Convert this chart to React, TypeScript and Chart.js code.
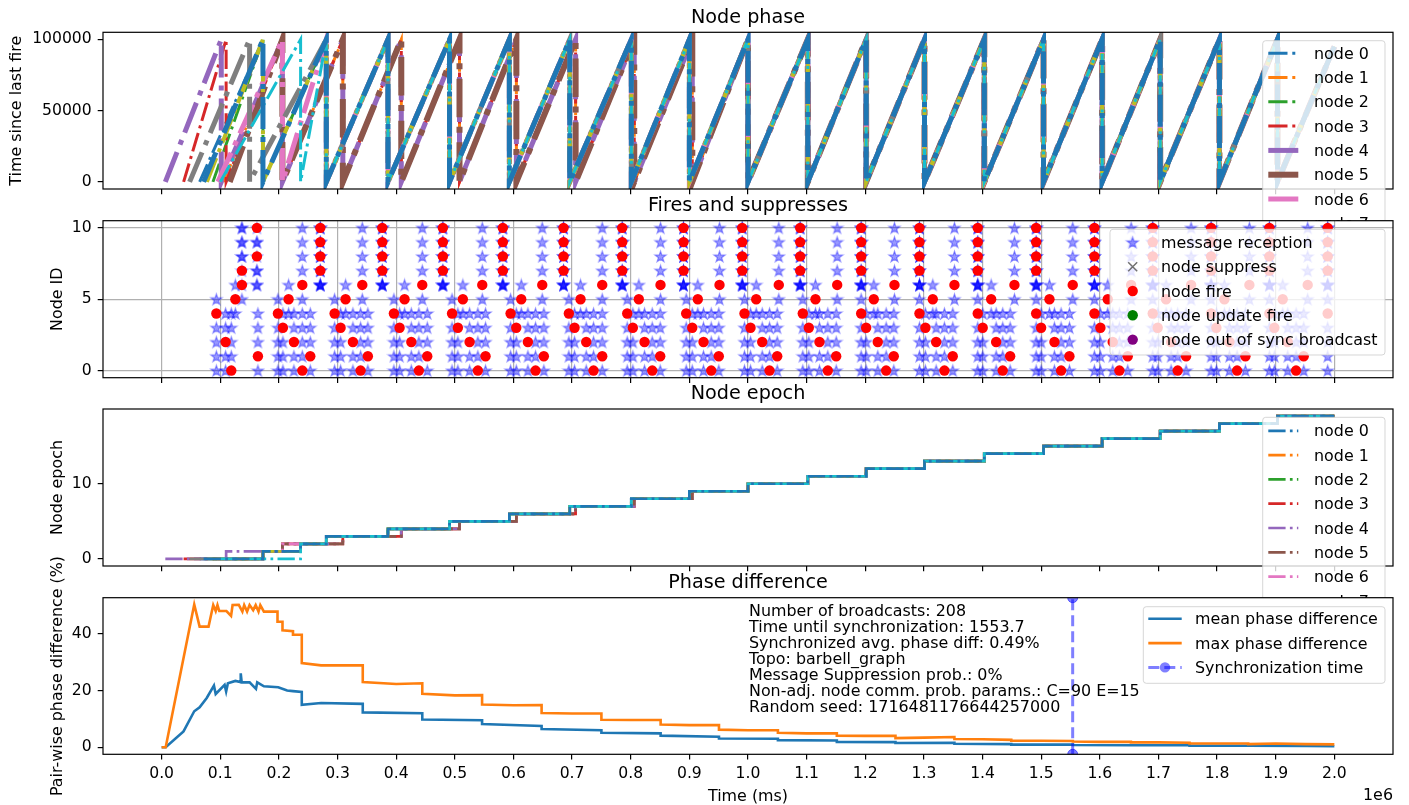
import React, { useEffect, useRef } from 'react';
import { Chart, registerables } from 'chart.js';

Chart.register(...registerables);

const FONT = '"DejaVu Sans", sans-serif';
const TAB10 = ['#1f77b4', '#ff7f0e', '#2ca02c', '#d62728', '#9467bd', '#8c564b', '#e377c2', '#7f7f7f', '#bcbd22', '#17becf'];

/* ---------------- data ---------------- */
const xTickValues = [0, 100000, 200000, 300000, 400000, 500000, 600000, 700000, 800000, 900000, 1000000,
  1100000, 1200000, 1300000, 1400000, 1500000, 1600000, 1700000, 1800000, 1900000, 2000000];
const timeRange = [-100000, 2100000];
const endTime = 2000000;

const nodeLabels = ['node 0', 'node 1', 'node 2', 'node 3', 'node 4', 'node 5', 'node 6', 'node 7', 'node 8', 'node 9', 'node 10'];
const nodeStartTimes = [64800, 105700, 87500, 37500, 6300, 116000, 96000, 47700, 77200, 100000, 71600];

// Node phase panel
const phaseTicks = [0, 50000, 100000];
const phaseRange = [-5000, 105000];
const phasePeak = 100000;
const phaseAtEnd = 95000;
const phaseEarlyDrops = [
  [172800, 280800, 386000, 491000, 593000, 696000, 801000, 900000],
  [206000, 309000, 408700, 508000, 605000, 706000, 806000, 905000],
  [172800, 280800, 386000, 491000, 593000, 696000, 801000, 900000],
  [110000, 206000, 309000, 408700, 508000, 605000, 706000, 806000, 905000],
  [101700, 206000, 309000, 408700, 508000, 605000, 706000, 806000, 905000],
  [206000, 309000, 408700, 508000, 605000, 706000, 806000, 905000],
  [206000, 280800, 386000, 491000, 593000, 696000, 801000, 900000],
  [150000, 280800, 386000, 491000, 593000, 696000, 801000, 900000],
  [172800, 280800, 386000, 491000, 593000, 696000, 801000, 900000],
  [237000, 280800, 386000, 491000, 593000, 696000, 801000, 900000],
  [172800, 280800, 386000, 491000, 593000, 696000, 801000, 900000],
];
const phaseSyncDrops = [1000000, 1102000, 1201500, 1301000, 1403000, 1504000, 1604000, 1703000, 1804000, 1903000];

// Fires and suppresses panel
const nodeIdTicks = [0, 5, 10];
const nodeIdRange = [-0.5, 10.5];
const barbellNeighbors = [
  [1, 2, 3, 4], [0, 2, 3, 4], [0, 1, 3, 4], [0, 1, 2, 4], [0, 1, 2, 3, 5],
  [4, 6],
  [5, 7, 8, 9, 10], [6, 8, 9, 10], [6, 7, 9, 10], [6, 7, 8, 10], [6, 7, 8, 9],
];
const fireTimesByNode = [
  [118800, 239900, 339300, 438700, 539300, 637700, 736600, 836700, 937300, 1036700, 1136100, 1235600, 1335000, 1434400, 1534000, 1633400, 1732800, 1834100, 1934700],
  [164200, 253500, 351700, 453000, 552400, 651800, 751400, 850300, 950200, 1049800, 1150400, 1248600, 1349200, 1447100, 1548200, 1647600, 1747100, 1848300, 1947700],
  [109100, 225600, 326200, 425800, 525200, 624600, 724100, 823500, 924100, 1024200, 1121900, 1221300, 1320900, 1423200, 1522600, 1622000, 1721600, 1821000, 1920400],
  [206800, 305200, 405800, 505200, 604800, 704200, 803600, 904900, 1004300, 1103700, 1201500, 1302600, 1400300, 1499900, 1601000, 1698700, 1798800, 1897700],
  [93300, 198300, 295000, 396100, 495300, 595100, 694500, 794000, 894600, 994000, 1093400, 1193000, 1292400, 1391800, 1491400, 1590800, 1690200, 1789800, 1889200, 1988600],
  [125700, 216500, 313700, 414300, 513700, 613300, 714400, 813800, 914400, 1014000, 1115100, 1214500, 1315100, 1414700, 1514100, 1613500, 1713000, 1812500, 1911900],
  [136900, 239900, 342200, 444500, 546800, 649100, 751400, 850800, 951400, 1052500, 1152100, 1249800, 1352100, 1454400, 1553800, 1653400, 1755700, 1855100, 1954500],
  [136900, 270600, 376300, 479600, 581900, 685400, 785500, 890000, 990100, 1089000, 1193000, 1292400, 1391800, 1491400, 1590800, 1690200, 1789800, 1889200, 1988600],
  [162500, 270600, 376300, 479600, 581900, 685400, 785500, 890000, 990100, 1089000, 1193000, 1292400, 1391800, 1491400, 1590800, 1690200, 1789800, 1889200, 1988600],
  [270600, 376300, 479600, 581900, 685400, 785500, 890000, 990100, 1089000, 1193000, 1292400, 1391800, 1491400, 1590800, 1690200, 1789800, 1889200, 1988600],
  [162500, 270600, 376300, 479600, 581900, 685400, 785500, 890000, 990100, 1089000, 1193000, 1292400, 1391800, 1491400, 1590800, 1690200, 1789800, 1889200, 1988600],
];

// Node epoch panel
const epochTicks = [0, 10];
const epochRange = [-0.95, 19.95];
const epochEarlySteps = [
  [172800, 237000, 280800, 385900, 491000, 593000, 696000, 801000, 900000],
  [172800, 206000, 309000, 408700, 508000, 605000, 706000, 806000, 905000],
  [172800, 237000, 280800, 385900, 491000, 593000, 696000, 801000, 900000],
  [172800, 206000, 309000, 408700, 508000, 605000, 706000, 806000, 905000],
  [110000, 206000, 309000, 408700, 508000, 605000, 706000, 806000, 905000],
  [172800, 206000, 309000, 408700, 508000, 605000, 706000, 806000, 905000],
  [172800, 206000, 280800, 385900, 491000, 593000, 696000, 801000, 900000],
  [172800, 237000, 280800, 385900, 491000, 593000, 696000, 801000, 900000],
  [172800, 237000, 280800, 385900, 491000, 593000, 696000, 801000, 900000],
  [237000, 237000, 280800, 385900, 491000, 593000, 696000, 801000, 900000],
  [172800, 237000, 280800, 385900, 491000, 593000, 696000, 801000, 900000],
];
const epochSyncSteps = [1000000, 1102000, 1201500, 1301000, 1403000, 1504000, 1604000, 1703000, 1804000, 1903000];

// Phase difference panel
const diffTicks = [0, 20, 40];
const diffRange = [-2.5, 52.8];
const meanPhaseDiff = [
  [0, 0], [6900, 0], [37300, 5.6], [55600, 12.7], [64800, 14.1], [76900, 17.4], [89200, 21.8], [92200, 18.8],
  [107400, 22.0], [110000, 19.7], [113000, 22.6], [125700, 23.4], [134900, 23.0], [134900, 26.1], [136500, 22.9],
  [150000, 22.9], [160900, 20.6], [163000, 22.9], [174400, 21.5], [198800, 21.2], [214000, 20.0], [224000, 19.8],
  [239000, 19.5], [239000, 15.0], [272000, 15.6], [343000, 15.3], [343000, 12.3], [444500, 12.0], [444500, 9.8],
  [546500, 9.5], [546500, 8.2], [648000, 7.5], [648000, 6.4], [750000, 6.0], [750000, 5.1], [851000, 4.9],
  [851000, 4.1], [950500, 3.7], [950500, 3.1], [1051000, 3.0], [1051000, 2.5], [1151500, 2.4], [1151500, 1.9],
  [1251500, 1.8], [1251500, 1.5], [1352000, 1.6], [1352000, 1.2], [1449000, 1.1], [1449000, 0.9], [1554000, 0.9],
  [1554000, 0.8], [1653000, 0.7], [1753000, 0.7], [1753000, 0.55], [1853000, 0.5], [1953000, 0.45], [2000000, 0.35],
];
const maxPhaseDiff = [
  [0, 0], [6900, 0], [55600, 50.4], [64800, 42.6], [80000, 42.6], [88000, 50.2], [92200, 48.1], [95200, 50.2],
  [98300, 48.1], [110500, 48.1], [118400, 46.4], [121000, 50.2], [131600, 50.3], [137700, 47.9], [140800, 50.2],
  [145700, 47.9], [150000, 50.2], [156100, 48.4], [160400, 50.2], [165200, 47.9], [168300, 50.2], [174400, 47.9],
  [197600, 47.9], [197600, 44.3], [206100, 44.3], [206100, 41.3], [224000, 41.0], [224000, 39.7], [239000, 39.7],
  [239000, 29.7], [272000, 28.9], [343000, 28.9], [343000, 23.0], [400000, 22.3], [444500, 22.6], [444500, 18.9],
  [500000, 18.3], [546500, 18.4], [546500, 15.1], [600000, 14.8], [648000, 14.9], [648000, 12.1], [700000, 11.9],
  [750000, 11.9], [750000, 9.7], [800000, 9.6], [851000, 9.6], [851000, 8.0], [900000, 7.8], [950500, 7.8],
  [950500, 6.2], [1000000, 6.0], [1051000, 6.0], [1051000, 5.1], [1100000, 4.9], [1151500, 4.9], [1151500, 4.1],
  [1200000, 4.0], [1251500, 4.0], [1251500, 3.2], [1300000, 3.4], [1352000, 3.6], [1352000, 2.9], [1400000, 2.8],
  [1449000, 2.6], [1449000, 2.3], [1500000, 2.3], [1554000, 2.2], [1554000, 2.0], [1600000, 1.9], [1653000, 1.9],
  [1653000, 1.7], [1700000, 1.7], [1753000, 1.6], [1753000, 1.3], [1800000, 1.3], [1853000, 1.3], [1853000, 1.1],
  [1900000, 1.3], [1950000, 1.1], [2000000, 1.0],
];
const syncTime = 1553700;
const statsLines = [
  'Number of broadcasts: 208',
  'Time until synchronization: 1553.7',
  'Synchronized avg. phase diff: 0.49%',
  'Topo: barbell_graph',
  'Message Suppression prob.: 0%',
  'Non-adj. node comm. prob. params.: C=90 E=15',
  'Random seed: 1716481176644257000',
];

/* ---------------- styling / layout ---------------- */
const W = 1409, H = 805;
const PLOT_LEFT = 103, PLOT_RIGHT = 1393;
const PANELS = [
  { top: 32.3, bottom: 189.0 },
  { top: 220.7, bottom: 377.7 },
  { top: 409.0, bottom: 566.0 },
  { top: 597.7, bottom: 754.3 },
];
const TICK_FONT = 15.6, LABEL_FONT = 15.9, TITLE_FONT = 19.2, LEGEND_FONT = 15.9;
const TICK_LEN = 5.3;
const X_LABEL_AXIS_H = 30;
const phaseLineWidths = [3, 3, 3, 3, 5, 6, 5, 5, 4, 3, 5];
const epochLineWidth = 2.7;
const dashFor = (lw: number) => [6.4 * lw, 1.6 * lw, lw, 1.6 * lw];
const colorOf = (i: number) => TAB10[i % 10];
const STAR_FILL = 'rgba(0,0,255,0.4)';
const SYNC_COLOR = 'rgba(0,0,255,0.5)';

function makeStar(r: number) {
  const lw = 1.2;
  const size = Math.ceil(2 * r + lw + 2);
  const c = document.createElement('canvas');
  c.width = size; c.height = size;
  const ctx = c.getContext('2d') as CanvasRenderingContext2D;
  const cx = size / 2, cy = size / 2 + 0.5;
  ctx.beginPath();
  for (let k = 0; k < 10; k++) {
    const rad = k % 2 === 0 ? r : r * 0.382;
    const a = -Math.PI / 2 + (k * Math.PI) / 5;
    const px = cx + rad * Math.cos(a), py = cy + rad * Math.sin(a);
    if (k === 0) ctx.moveTo(px, py); else ctx.lineTo(px, py);
  }
  ctx.closePath();
  ctx.fillStyle = STAR_FILL; ctx.fill();
  ctx.lineWidth = lw; ctx.strokeStyle = STAR_FILL; ctx.stroke();
  return c;
}

/* ---------------- derived tables ---------------- */
function phasePoints(i: number) {
  const drops = [...phaseEarlyDrops[i], ...phaseSyncDrops];
  const pts: any[] = [{ x: nodeStartTimes[i], y: 0 }];
  drops.forEach((d) => { pts.push({ x: d, y: phasePeak }); pts.push({ x: d, y: 0 }); });
  pts.push({ x: endTime, y: phaseAtEnd });
  return pts;
}
function epochPoints(i: number) {
  const steps = [...epochEarlySteps[i], ...epochSyncSteps];
  const pts: any[] = [{ x: nodeStartTimes[i], y: 0 }];
  steps.forEach((s, k) => { pts.push({ x: s, y: k }); pts.push({ x: s, y: k + 1 }); });
  pts.push({ x: endTime, y: steps.length });
  return pts;
}
const receptionPoints: any[] = [];
fireTimesByNode.forEach((times, node) => times.forEach((t) => barbellNeighbors[node].forEach((n) => receptionPoints.push({ x: t, y: n }))));
const firePoints = fireTimesByNode.flatMap((times, node) => times.map((t) => ({ x: t, y: node })));

/* ---------------- axes ---------------- */
function xAxis(withLabels: boolean, gridOnArea: boolean, height: number) {
  return {
    type: 'linear', min: timeRange[0], max: timeRange[1],
    afterBuildTicks: (s: any) => { s.ticks = xTickValues.map((v) => ({ value: v })); },
    afterFit: (s: any) => { s.height = height; },
    grid: { display: true, drawOnChartArea: gridOnArea, drawTicks: true, tickLength: TICK_LEN, tickWidth: 1.2, tickColor: '#000', color: '#b0b0b0', lineWidth: 1.2 },
    border: { display: false },
    ticks: { display: withLabels, autoSkip: false, maxRotation: 0, minRotation: 0, padding: 5, color: '#000', font: { family: FONT, size: TICK_FONT }, callback: (v: number) => (v / 1e6).toFixed(1) },
  };
}
function yAxis(ticks: number[], range: number[], gridOnArea: boolean) {
  return {
    type: 'linear', min: range[0], max: range[1],
    afterBuildTicks: (s: any) => { s.ticks = ticks.map((v) => ({ value: v })); },
    afterFit: (s: any) => { s.width = PLOT_LEFT; },
    grid: { display: true, drawOnChartArea: gridOnArea, drawTicks: true, tickLength: TICK_LEN, tickWidth: 1.2, tickColor: '#000', color: '#b0b0b0', lineWidth: 1.2 },
    border: { display: false },
    ticks: { autoSkip: false, padding: 6, color: '#000', font: { family: FONT, size: TICK_FONT }, callback: (v: number) => String(v) },
  };
}

/* ---------------- legend & decorations ---------------- */
function roundRect(ctx: CanvasRenderingContext2D, x: number, y: number, w: number, h: number, r: number) {
  ctx.beginPath();
  ctx.moveTo(x + r, y);
  ctx.lineTo(x + w - r, y); ctx.arcTo(x + w, y, x + w, y + r, r);
  ctx.lineTo(x + w, y + h - r); ctx.arcTo(x + w, y + h, x + w - r, y + h, r);
  ctx.lineTo(x + r, y + h); ctx.arcTo(x, y + h, x, y + h - r, r);
  ctx.lineTo(x, y + r); ctx.arcTo(x, y, x + r, y, r);
  ctx.closePath();
}

function drawLegend(ctx: CanvasRenderingContext2D, L: any, star: HTMLCanvasElement) {
  ctx.save();
  roundRect(ctx, L.box[0], L.box[1], L.box[2], L.box[3], 3);
  ctx.fillStyle = 'rgba(255,255,255,0.8)'; ctx.fill();
  ctx.lineWidth = 1; ctx.strokeStyle = 'rgba(204,204,204,0.8)'; ctx.stroke();
  L.entries.forEach((e: any, k: number) => {
    const by = L.firstBaseline + k * L.rowStep;
    const cy = by - 5.6;
    const x0 = L.handle[0], x1 = L.handle[1], cx = (x0 + x1) / 2;
    if (e.kind === 'line' || e.kind === 'lineMarker') {
      ctx.save();
      ctx.beginPath(); ctx.setLineDash(e.dash || []); ctx.lineWidth = e.lw; ctx.strokeStyle = e.color; ctx.lineCap = 'butt';
      ctx.moveTo(x0, cy); ctx.lineTo(x1, cy); ctx.stroke();
      ctx.restore();
    }
    if (e.kind === 'lineMarker' || e.kind === 'dot') {
      ctx.beginPath(); ctx.arc(cx, cy, 5.2, 0, Math.PI * 2); ctx.fillStyle = e.color; ctx.fill();
    }
    if (e.kind === 'star') ctx.drawImage(star, cx - star.width / 2, cy - star.height / 2);
    if (e.kind === 'cross') {
      ctx.beginPath(); ctx.strokeStyle = e.color; ctx.lineWidth = 1.5;
      ctx.moveTo(cx - 4.5, cy - 4.5); ctx.lineTo(cx + 4.5, cy + 4.5);
      ctx.moveTo(cx + 4.5, cy - 4.5); ctx.lineTo(cx - 4.5, cy + 4.5); ctx.stroke();
    }
    ctx.fillStyle = '#000'; ctx.font = `${LEGEND_FONT}px ${FONT}`; ctx.textAlign = 'left'; ctx.textBaseline = 'alphabetic';
    ctx.fillText(e.label, L.textX, by);
  });
  ctx.restore();
}

function decorPlugin(title: string, ylabel: string, ylabelX: number, legend: any, star: HTMLCanvasElement, extra?: (ctx: CanvasRenderingContext2D, a: any) => void) {
  return {
    id: 'decor',
    beforeDraw(chart: any) {
      const { ctx, chartArea: a } = chart;
      ctx.save(); ctx.fillStyle = '#ffffff'; ctx.fillRect(a.left, a.top, a.right - a.left, a.bottom - a.top); ctx.restore();
    },
    afterDraw(chart: any) {
      const { ctx, chartArea: a } = chart;
      ctx.save();
      ctx.strokeStyle = '#000'; ctx.lineWidth = 1.2;
      ctx.strokeRect(a.left, a.top, a.right - a.left, a.bottom - a.top);
      ctx.fillStyle = '#000'; ctx.textAlign = 'center'; ctx.textBaseline = 'alphabetic';
      ctx.font = `${TITLE_FONT}px ${FONT}`;
      ctx.fillText(title, (a.left + a.right) / 2, a.top - 9.7);
      ctx.font = `${LABEL_FONT}px ${FONT}`;
      ctx.save();
      ctx.translate(ylabelX, (a.top + a.bottom) / 2); ctx.rotate(-Math.PI / 2);
      ctx.fillText(ylabel, 0, 0);
      ctx.restore();
      if (extra) extra(ctx, a);
      ctx.restore();
      drawLegend(ctx, legend, star);
    },
  };
}

function makeChart(canvas: HTMLCanvasElement, panel: number, datasets: any[], yTicks: number[], yRange: number[], gridOnArea: boolean, withXLabels: boolean, plugin: any) {
  const p = PANELS[panel];
  const xH = withXLabels ? X_LABEL_AXIS_H : TICK_LEN + 1;
  return new Chart(canvas, {
    type: 'scatter',
    data: { datasets },
    options: {
      responsive: false, maintainAspectRatio: false, animation: false, devicePixelRatio: 1, events: [],
      layout: { padding: { left: 0, right: W - PLOT_RIGHT, top: p.top, bottom: H - p.bottom - xH } },
      plugins: { legend: { display: false }, tooltip: { enabled: false }, title: { display: false } },
      scales: { x: xAxis(withXLabels, gridOnArea, xH), y: yAxis(yTicks, yRange, gridOnArea) },
    } as any,
    plugins: [plugin],
  } as any);
}

export default function App() {
  const c1 = useRef<HTMLCanvasElement>(null);
  const c2 = useRef<HTMLCanvasElement>(null);
  const c3 = useRef<HTMLCanvasElement>(null);
  const c4 = useRef<HTMLCanvasElement>(null);

  useEffect(() => {
    document.body.style.margin = '0';
    const star = makeStar(5.8);

    // Panel 1 — node phase
    const phaseSets = nodeLabels.map((label, i) => ({
      label, data: phasePoints(i), showLine: true, borderColor: colorOf(i), backgroundColor: colorOf(i),
      borderWidth: phaseLineWidths[i], borderDash: dashFor(phaseLineWidths[i]), pointRadius: 0, order: nodeLabels.length - i, clip: 0,
    }));
    const legend1 = {
      box: [1262.7, 40.7, 122.3, 272], firstBaseline: 58.8, rowStep: 24.3, handle: [1268.3, 1298.3], textX: 1314,
      entries: nodeLabels.map((label, i) => ({ label, kind: 'line', color: colorOf(i), lw: phaseLineWidths[i], dash: dashFor(phaseLineWidths[i]) })),
    };

    // Panel 2 — fires and suppresses
    const fireSets = [
      { label: 'node fire', data: firePoints, pointStyle: 'circle', pointRadius: 5.2, backgroundColor: '#ff0000', borderWidth: 0, order: 1 },
      { label: 'message reception', data: receptionPoints, pointStyle: star, pointRadius: 6, order: 2 },
    ];
    const legend2 = {
      box: [1110, 229.3, 275, 125.7], firstBaseline: 248, rowStep: 24.3, handle: [1118, 1147.4], textX: 1161,
      entries: [
        { label: 'message reception', kind: 'star' },
        { label: 'node suppress', kind: 'cross', color: '#707070' },
        { label: 'node fire', kind: 'dot', color: '#ff0000' },
        { label: 'node update fire', kind: 'dot', color: '#008000' },
        { label: 'node out of sync broadcast', kind: 'dot', color: '#800080' },
      ],
    };

    // Panel 3 — node epoch
    const epochSets = nodeLabels.map((label, i) => ({
      label, data: epochPoints(i), showLine: true, borderColor: colorOf(i), backgroundColor: colorOf(i),
      borderWidth: epochLineWidth, borderDash: dashFor(epochLineWidth), pointRadius: 0, order: nodeLabels.length - i, clip: 0,
    }));
    const legend3 = {
      box: [1262.7, 417.3, 122.3, 272], firstBaseline: 436.4, rowStep: 24.3, handle: [1268.3, 1298.3], textX: 1314,
      entries: nodeLabels.map((label, i) => ({ label, kind: 'line', color: colorOf(i), lw: epochLineWidth, dash: dashFor(epochLineWidth) })),
    };

    // Panel 4 — phase difference
    const diffSets = [
      { label: 'mean phase difference', data: meanPhaseDiff.map(([x, y]) => ({ x, y })), showLine: true, borderColor: TAB10[0], borderWidth: 2.6, pointRadius: 0, order: 3, clip: 0 },
      { label: 'max phase difference', data: maxPhaseDiff.map(([x, y]) => ({ x, y })), showLine: true, borderColor: TAB10[1], borderWidth: 2.6, pointRadius: 0, order: 2, clip: 0 },
      { label: 'Synchronization time', data: [{ x: syncTime, y: diffRange[0] }, { x: syncTime, y: diffRange[1] }], showLine: true,
        borderColor: SYNC_COLOR, borderWidth: 3, borderDash: [11, 5], pointRadius: 5, pointStyle: 'circle',
        pointBackgroundColor: SYNC_COLOR, pointBorderColor: SYNC_COLOR, pointBorderWidth: 1, order: 1, clip: 0 },
    ];
    const legend4 = {
      box: [1143.3, 606.7, 241.7, 76.6], firstBaseline: 624.4, rowStep: 24.3, handle: [1148.3, 1181.7], textX: 1195,
      entries: [
        { label: 'mean phase difference', kind: 'line', color: TAB10[0], lw: 2.6 },
        { label: 'max phase difference', kind: 'line', color: TAB10[1], lw: 2.6 },
        { label: 'Synchronization time', kind: 'lineMarker', color: SYNC_COLOR, lw: 3, dash: [11, 5] },
      ],
    };
    const extra4 = (ctx: CanvasRenderingContext2D, a: any) => {
      ctx.font = `${LEGEND_FONT}px ${FONT}`; ctx.textAlign = 'left'; ctx.fillStyle = '#000';
      statsLines.forEach((line, k) => ctx.fillText(line, 749, 616.3 + k * 16));
      ctx.font = `${LABEL_FONT}px ${FONT}`; ctx.textAlign = 'center';
      ctx.fillText('Time (ms)', (a.left + a.right) / 2, 800.5);
      ctx.textAlign = 'right';
      ctx.fillText('1e6', a.right, 799.5);
    };

    const charts = [
      makeChart(c1.current as HTMLCanvasElement, 0, phaseSets, phaseTicks, phaseRange, false, false,
        decorPlugin('Node phase', 'Time since last fire', 20.7, legend1, star)),
      makeChart(c2.current as HTMLCanvasElement, 1, fireSets, nodeIdTicks, nodeIdRange, true, false,
        decorPlugin('Fires and suppresses', 'Node ID', 61.7, legend2, star)),
      makeChart(c3.current as HTMLCanvasElement, 2, epochSets, epochTicks, epochRange, false, false,
        decorPlugin('Node epoch', 'Node epoch', 61.7, legend3, star)),
      makeChart(c4.current as HTMLCanvasElement, 3, diffSets, diffTicks, diffRange, false, true,
        decorPlugin('Phase difference', 'Pair-wise phase difference (%)', 61.7, legend4, star, extra4)),
    ];
    return () => charts.forEach((c) => c.destroy());
  }, []);

  const style: React.CSSProperties = { position: 'absolute', left: 0, top: 0, width: W, height: H };
  return (
    <div style={{ position: 'fixed', left: 0, top: 0, width: W, height: H, background: '#ffffff', overflow: 'hidden' }}>
      <canvas ref={c1} width={W} height={H} style={style} />
      <canvas ref={c2} width={W} height={H} style={style} />
      <canvas ref={c3} width={W} height={H} style={style} />
      <canvas ref={c4} width={W} height={H} style={style} />
    </div>
  );
}
